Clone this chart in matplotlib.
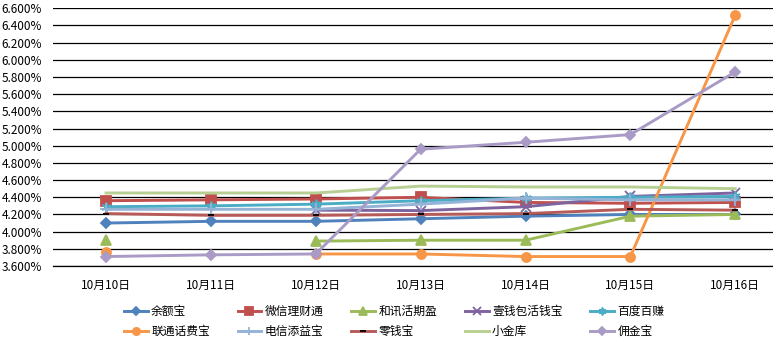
import numpy as np
import matplotlib
matplotlib.use("Agg")
import matplotlib.pyplot as plt

plt.rcParams['font.family'] = ['Noto Sans CJK SC', 'DejaVu Sans']

dates = ["10月10日", "10月11日", "10月12日", "10月13日", "10月14日", "10月15日", "10月16日"]
nan = np.nan
yuebao      = [4.10, 4.12, 4.12, 4.15, 4.18, 4.20, 4.20]
weixin      = [4.36, 4.37, 4.38, 4.40, 4.34, 4.33, 4.34]
hexun       = [3.90, nan, 3.89, 3.90, 3.90, 4.18, 4.20]
yiqianbao   = [nan, nan, 4.25, 4.245, 4.29, 4.41, 4.45]
baidu       = [4.29, 4.30, 4.32, 4.36, 4.39, 4.40, 4.41]
liantong    = [3.76, nan, 3.74, 3.74, 3.71, 3.71, 6.52]
dianxin     = [4.26, 4.26, 4.26, 4.32, 4.39, 4.37, 4.37]
lingqianbao = [4.21, 4.19, 4.19, 4.20, 4.21, 4.26, 4.25]
xiaojinku   = [4.45, 4.45, 4.45, 4.53, 4.52, 4.52, 4.50]
yongjinbao  = [3.71, 3.73, 3.74, 4.96, 5.04, 5.13, 5.86]

names = ["余额宝", "微信理财通", "和讯活期盈", "壹钱包活钱宝", "百度百赚",
         "联通话费宝", "电信添益宝", "零钱宝", "小金库", "佣金宝"]
series = [yuebao, weixin, hexun, yiqianbao, baidu,
          liantong, dianxin, lingqianbao, xiaojinku, yongjinbao]
colors = ["#4F81BD", "#C0504D", "#9BBB59", "#7E649E", "#4BACC6",
          "#F79646", "#95B3D7", "#B65B58", "#B8CF93", "#A99BC6"]
markers = ["D", "s", "^", "x", (6, 2, 0), "o", "+", "_", None, "D"]
msizes = [5, 6.5, 6.5, 7, 7, 6.5, 8, 5, 0, 5]
mecs = [None, None, None, None, None, None, None, "black", None, None]

fig = plt.figure(figsize=(7.73, 3.45), dpi=100)
ax = fig.add_axes([53/773, 1-266/345, 1-53/773, (266-8.3)/345])

x = np.arange(len(dates))
handles = []
for name, vals, c, m, ms, mec in zip(names, series, colors, markers, msizes, mecs):
    h, = ax.plot(x, vals, color=c, lw=2.1, marker=m, markersize=ms,
                 markeredgecolor=mec if mec else c, markerfacecolor=c,
                 markeredgewidth=1.3, label=name, solid_joinstyle='miter')
    handles.append(h)

ax.set_ylim(3.6, 6.6)
ax.set_yticks(np.arange(3.6, 6.61, 0.2))
ax.set_yticklabels([f"{v:.3f}%" for v in np.arange(3.6, 6.61, 0.2)], fontsize=8.5)
ax.set_xlim(-0.506, 6.36)
ax.set_xticks(x)
ax.set_xticklabels(dates, fontsize=8.5)
ax.tick_params(axis='both', length=0)
ax.tick_params(axis='x', pad=9)
ax.tick_params(axis='y', pad=8)
ax.yaxis.grid(True, color='black', lw=0.9)
ax.set_axisbelow(True)
for s in ['top', 'right', 'left']:
    ax.spines[s].set_visible(False)
ax.spines['bottom'].set_color('black')
ax.spines['bottom'].set_linewidth(0.9)

order = [0, 5, 1, 6, 2, 7, 3, 8, 4, 9]
leg = fig.legend([handles[i] for i in order], [names[i] for i in order],
                 ncol=5, loc='center left', bbox_to_anchor=(124/773, 1-321.5/345),
                 frameon=False, fontsize=8.5, handlelength=2.0, handletextpad=0.3,
                 columnspacing=2.35, labelspacing=0.6, borderpad=0, borderaxespad=0,
                 markerscale=0.8)

fig.savefig("out.png", dpi=100)
